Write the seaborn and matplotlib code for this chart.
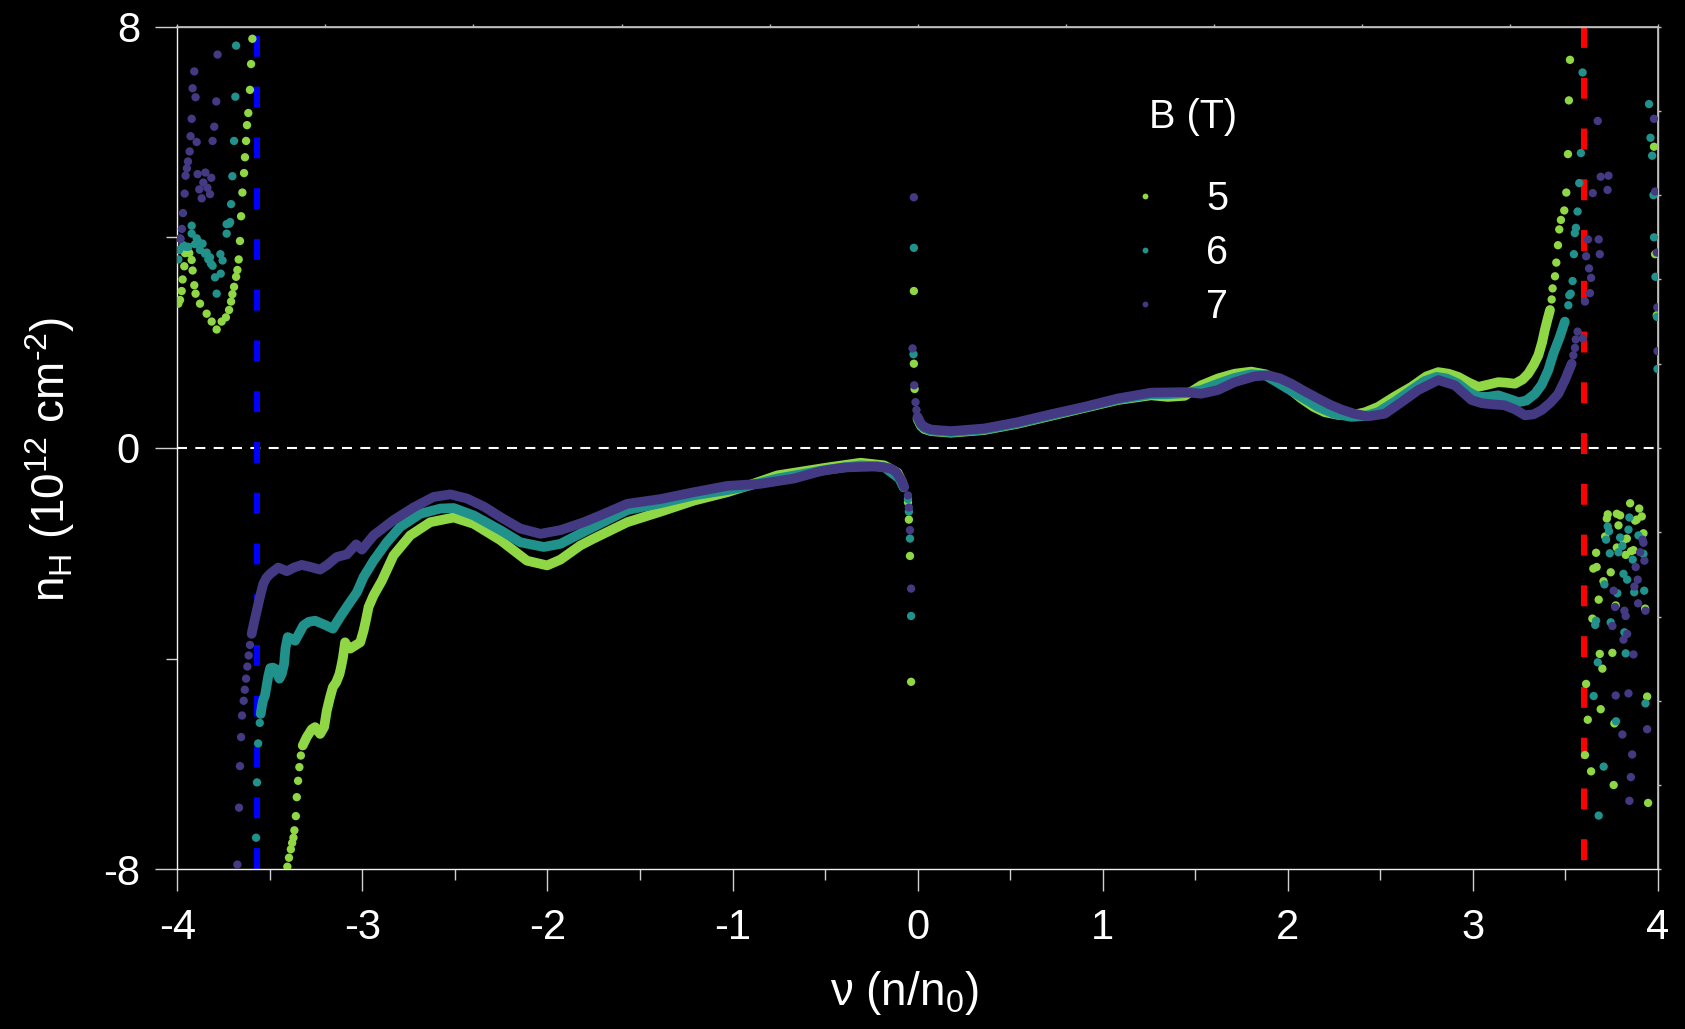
import numpy as np
import pandas as pd
import matplotlib
matplotlib.use("Agg")
import matplotlib.pyplot as plt
from matplotlib.lines import Line2D
import seaborn as sns

# ---------------------------------------------------------------------------
# Hall density n_H versus filling factor nu for three magnetic fields
# ---------------------------------------------------------------------------
B_FIELDS = [5, 6, 7]

# --- B = 5 T: continuous traces (hole side / electron side) ---
NU_B5_NEG = [-3.323, -3.301, -3.274, -3.256, -3.229, -3.207, -3.193, -3.175, -3.160, -3.142,
             -3.124, -3.115, -3.106, -3.094, -3.080, -3.066, -3.039, -3.012, -2.994, -2.982,
             -2.967, -2.940, -2.895, -2.832, -2.742, -2.634, -2.507, -2.399, -2.255, -2.111,
             -2.002, -1.930, -1.822, -1.750, -1.569, -1.389, -1.209, -1.028, -0.938, -0.758,
             -0.487, -0.307, -0.181, -0.108, -0.082]
NH_B5_NEG = [-5.65, -5.49, -5.34, -5.30, -5.43, -5.30, -4.99, -4.73, -4.54, -4.45,
             -4.29, -4.15, -3.99, -3.69, -3.78, -3.81, -3.75, -3.69, -3.47, -3.28,
             -3.02, -2.80, -2.52, -2.04, -1.66, -1.41, -1.32, -1.44, -1.75, -2.14,
             -2.23, -2.12, -1.85, -1.72, -1.41, -1.21, -1.00, -0.84, -0.74, -0.52,
             -0.37, -0.28, -0.33, -0.47, -0.66]
NU_B5_POS = [0.000, 0.018, 0.036, 0.072, 0.180, 0.360, 0.541, 0.721, 0.901, 1.082,
             1.262, 1.353, 1.443, 1.533, 1.623, 1.713, 1.803, 1.880, 1.948, 2.010,
             2.074, 2.140, 2.200, 2.270, 2.345, 2.420, 2.489, 2.580, 2.669, 2.750,
             2.814, 2.870, 2.922, 2.980, 3.030, 3.080, 3.138, 3.180, 3.228, 3.270,
             3.300, 3.330, 3.355, 3.375, 3.390, 3.405, 3.418]
NH_B5_POS = [0.55, 0.42, 0.36, 0.32, 0.29, 0.34, 0.46, 0.61, 0.76, 0.91,
             1.00, 0.97, 0.99, 1.19, 1.32, 1.41, 1.45, 1.40, 1.29, 1.12,
             0.94, 0.78, 0.68, 0.63, 0.62, 0.68, 0.78, 0.98, 1.16, 1.36,
             1.44, 1.41, 1.35, 1.24, 1.16, 1.20, 1.25, 1.24, 1.22, 1.30,
             1.41, 1.58, 1.76, 2.00, 2.24, 2.45, 2.62]
# --- B = 5 T: isolated points ---
NU_B5_DOTS = [-3.406, -3.397, -3.387, -3.380, -3.373, -3.368, -3.360, -3.355, -3.348, -3.341, -3.333,
              -0.052, -0.047, -0.041, -0.035, -0.020, -0.020, -0.016,
              -3.595, -3.602, -3.608, -3.617, -3.624, -3.629, -3.635, -3.640, -3.649, -3.656,
              -3.662, -3.669, -3.676, -3.683, -3.694, -3.703, -3.710, -3.721, -3.738, -3.761,
              -3.788, -3.815, -3.842, -3.878, -3.902, -3.909, -3.918, -3.923, -3.936, -3.959,
              -3.963, -3.972, -3.977, -3.986, -3.995,
              3.427, 3.432, 3.445, 3.452, 3.461, 3.468, 3.477, 3.495, 3.506, 3.515, 3.520, 3.526,
              3.980, 3.986, 3.995,
              3.851, 3.900, 3.730, 3.797, 3.725, 3.887, 3.914, 3.788, 3.716, 3.833, 3.923, 3.869,
              3.667, 3.827, 3.779, 3.670, 3.652, 3.746, 3.707, 3.681, 3.773, 3.932, 3.647, 3.687,
              3.755, 3.701, 3.613, 3.943, 3.692, 3.622, 3.766, 3.607, 3.640, 3.762, 3.948,
              3.779, 3.878, 3.815, 3.856]
NH_B5_DOTS = [-7.95, -7.78, -7.62, -7.50, -7.40, -7.26, -6.99, -6.63, -6.32, -6.06, -5.84,
              -1.03, -1.36, -2.05, -4.44, 2.98, 1.60, 1.12,
              7.77, 7.29, 6.80, 6.36, 6.13, 5.83, 5.52, 5.22, 4.85, 4.40,
              3.93, 3.58, 3.38, 3.25, 3.06, 2.92, 2.78, 2.62, 2.48, 2.40,
              2.25, 2.40, 2.55, 2.74, 2.93, 3.09, 3.37, 3.57, 3.70, 3.70,
              3.45, 3.20, 2.98, 2.81, 2.74,
              2.82, 3.03, 3.26, 3.52, 3.85, 4.15, 4.33, 4.51, 4.85, 5.58, 6.60, 7.37,
              5.72, 3.68, 2.52,
              -1.05, -1.15, -1.26, -1.28, -1.34, -1.36, -1.30, -1.47, -1.68, -1.72, -1.62, -1.94,
              -1.99, -2.03, -1.89, -2.26, -2.29, -2.36, -2.53, -2.88, -2.99, -3.05, -3.24, -3.91,
              -3.89, -4.19, -4.48, -4.72, -4.96, -5.16, -5.23, -5.83, -6.14, -6.40, -6.74,
              -1.25, -1.38, -1.75, -1.96]

# --- B = 6 T ---
NU_B6_NEG = [-3.550, -3.543, -3.536, -3.527, -3.521, -3.510, -3.499, -3.485, -3.472, -3.449,
             -3.436, -3.424, -3.416, -3.404, -3.385, -3.364, -3.319, -3.290, -3.256, -3.202,
             -3.160, -3.121, -3.085, -3.030, -2.994, -2.940, -2.868, -2.796, -2.688, -2.579,
             -2.507, -2.399, -2.255, -2.147, -2.020, -1.930, -1.786, -1.569, -1.389, -1.209,
             -1.028, -0.938, -0.758, -0.487, -0.307, -0.181, -0.099, -0.075]
NH_B6_NEG = [-5.05, -4.89, -4.78, -4.70, -4.58, -4.35, -4.18, -4.17, -4.19, -4.38,
             -4.29, -4.11, -3.80, -3.59, -3.62, -3.66, -3.37, -3.30, -3.28, -3.36,
             -3.43, -3.21, -3.02, -2.74, -2.45, -2.14, -1.79, -1.50, -1.25, -1.15,
             -1.14, -1.28, -1.56, -1.79, -1.88, -1.82, -1.56, -1.18, -1.05, -0.90,
             -0.80, -0.74, -0.58, -0.41, -0.33, -0.36, -0.58, -0.75]
NU_B6_POS = [0.000, 0.018, 0.036, 0.072, 0.180, 0.360, 0.541, 0.721, 0.901, 1.082,
             1.262, 1.353, 1.443, 1.533, 1.623, 1.713, 1.803, 1.880, 1.984, 2.074,
             2.164, 2.250, 2.345, 2.420, 2.489, 2.580, 2.669, 2.740, 2.805, 2.860,
             2.922, 2.980, 3.030, 3.080, 3.138, 3.190, 3.247, 3.290, 3.337, 3.373,
             3.409, 3.436, 3.471, 3.498]
NH_B6_POS = [0.57, 0.44, 0.38, 0.33, 0.30, 0.35, 0.47, 0.62, 0.77, 0.92,
             1.02, 1.02, 1.04, 1.10, 1.22, 1.33, 1.40, 1.38, 1.16, 0.97,
             0.78, 0.65, 0.59, 0.61, 0.68, 0.88, 1.10, 1.27, 1.35, 1.32,
             1.22, 1.06, 0.97, 0.97, 1.00, 0.94, 0.87, 0.90, 1.03, 1.20,
             1.48, 1.79, 2.11, 2.40]
NU_B6_DOTS = [-3.575, -3.570, -3.564, -3.555,
              -0.052, -0.047, -0.041, -0.035, -0.020, -0.022,
              -3.683, -3.687, -3.694, -3.703, -3.710, -3.719, -3.734, -3.768, -3.756, -3.766,
              -3.797, -3.788, -3.810, -3.824, -3.842, -3.864, -3.887, -3.896, -3.923, -3.923,
              -3.941, -3.968, -3.990, -3.995, -3.954, -3.905, -3.878, -3.851, -3.833, -3.819,
              -3.734, -3.715,
              3.953, 3.961, 3.970, 3.977, 3.980, 3.988, 3.996, 3.999,
              3.517, 3.522, 3.530, 3.540, 3.547, 3.552, 3.558, 3.567, 3.576, 3.585, 3.594,
              3.847, 3.730, 3.737, 3.842, 3.896, 3.721, 3.797, 3.809, 3.788, 3.741, 3.923, 3.865,
              3.815, 3.835, 3.712, 3.782, 3.873, 3.927, 3.667, 3.662, 3.746, 3.820, 3.827, 3.676,
              3.654, 3.934, 3.775, 3.708, 3.681]
NH_B6_DOTS = [-7.40, -6.35, -5.61, -5.22,
              -0.97, -1.21, -1.72, -3.19, 3.80, 1.78,
              7.64, 6.67, 5.83, 5.16, 4.63, 4.26, 4.07, 3.68, 3.56, 3.31,
              3.24, 2.93, 3.46, 3.62, 3.71, 3.88, 3.92, 3.98, 4.07, 4.22,
              3.82, 3.85, 3.76, 3.58, 3.82, 3.87, 3.76, 3.69, 3.58, 3.50,
              4.25, 4.29,
              6.53, 5.89, 5.55, 4.80, 4.00, 3.25, 2.49, 1.50,
              2.71, 2.90, 2.93, 3.17, 3.68, 4.08, 4.18, 4.49, 5.03, 5.60, 7.13,
              -1.32, -1.49, -1.58, -1.55, -1.66, -1.74, -1.70, -1.86, -1.98, -2.00, -2.01, -2.12,
              -2.39, -2.50, -2.59, -2.76, -2.74, -2.71, -3.28, -3.36, -3.31, -3.50, -3.90, -4.07,
              -4.71, -4.85, -5.19, -6.05, -6.98]

# --- B = 7 T ---
NU_B7_NEG = [-3.599, -3.585, -3.571, -3.555, -3.536, -3.520, -3.499, -3.455, -3.409, -3.370,
             -3.328, -3.280, -3.229, -3.190, -3.139, -3.084, -3.034, -3.003, -2.940, -2.832,
             -2.724, -2.616, -2.525, -2.435, -2.340, -2.255, -2.147, -2.038, -1.930, -1.804,
             -1.714, -1.569, -1.389, -1.209, -1.028, -0.848, -0.668, -0.523, -0.397, -0.217,
             -0.145, -0.115, -0.099, -0.085, -0.072]
NH_B7_NEG = [-3.53, -3.30, -3.09, -2.84, -2.58, -2.47, -2.39, -2.27, -2.34, -2.27,
             -2.22, -2.26, -2.31, -2.22, -2.07, -2.02, -1.83, -1.93, -1.66, -1.37,
             -1.13, -0.93, -0.88, -0.96, -1.12, -1.31, -1.53, -1.63, -1.56, -1.41,
             -1.28, -1.06, -0.97, -0.84, -0.72, -0.68, -0.58, -0.44, -0.37, -0.35,
             -0.39, -0.46, -0.55, -0.63, -0.74]
NU_B7_POS = [0.000, 0.018, 0.036, 0.072, 0.180, 0.360, 0.541, 0.721, 0.901, 1.082,
             1.262, 1.443, 1.533, 1.623, 1.713, 1.821, 1.894, 1.960, 2.020, 2.090,
             2.164, 2.230, 2.291, 2.360, 2.435, 2.525, 2.615, 2.706, 2.814, 2.904,
             2.994, 3.050, 3.102, 3.174, 3.230, 3.283, 3.330, 3.373, 3.420, 3.463,
             3.500, 3.535]
NH_B7_POS = [0.59, 0.46, 0.40, 0.35, 0.32, 0.37, 0.49, 0.64, 0.78, 0.94,
             1.05, 1.06, 1.03, 1.10, 1.25, 1.36, 1.38, 1.32, 1.22, 1.08,
             0.94, 0.82, 0.73, 0.65, 0.60, 0.65, 0.87, 1.10, 1.29, 1.19,
             0.91, 0.85, 0.83, 0.81, 0.73, 0.62, 0.64, 0.72, 0.86, 1.03,
             1.30, 1.60]
NU_B7_DOTS = [-3.676, -3.667, -3.662, -3.656, -3.651, -3.642, -3.636, -3.629, -3.622, -3.615, -3.608,
              -0.052, -0.047, -0.041, -0.035, -0.020, -0.027, -0.018, -0.011, -0.006,
              -3.783, -3.909, -3.918, -3.902, -3.790, -3.923, -3.801, -3.929, -3.896, -3.810,
              -3.934, -3.943, -3.949, -3.956, -3.891, -3.849, -3.817, -3.860, -3.838, -3.882,
              -3.824, -3.869, -3.961, -3.970, -3.976, -3.983, -3.986,
              3.544, 3.553, 3.557, 3.567, 3.595, 3.607, 3.634, 3.640, 3.629, 3.613, 3.623, 3.681,
              3.687, 3.649, 3.692, 3.734, 3.729, 3.676, 3.980, 3.986, 3.995, 3.998, 3.999,
              3.918, 3.923, 3.905, 3.928, 3.881, 3.892, 3.874, 3.762, 3.894, 3.770, 3.820, 3.827,
              3.934, 3.755, 3.835, 3.815, 3.869, 3.773, 3.842, 3.943, 3.809, 3.862, 3.855, 3.847]
NH_B7_DOTS = [-7.91, -6.83, -6.04, -5.49, -5.08, -4.80, -4.59, -4.38, -4.15, -3.94, -3.74,
              -0.90, -1.13, -1.56, -2.67, 4.76, 1.89, 1.19, 0.87, 0.72,
              7.47, 7.15, 6.83, 6.66, 6.58, 6.25, 6.10, 5.92, 5.81, 5.83,
              5.63, 5.44, 5.31, 5.17, 5.20, 5.23, 5.13, 5.04, 4.94, 4.91,
              4.82, 4.74, 4.83, 4.46, 4.16, 3.97, 3.98,
              1.76, 1.90, 2.06, 2.21, 2.08, 2.78, 2.94, 3.23, 3.41, 3.64, 3.96, 3.96,
              3.68, 4.84, 5.15, 5.17, 4.90, 6.21, 6.25, 4.87, 3.71, 2.67, 1.84,
              -1.74, -1.80, -1.98, -2.14, -2.26, -2.50, -2.63, -2.71, -2.95, -3.02, -3.09, -3.19,
              -3.09, -3.38, -3.53, -3.64, -3.92, -4.70, -4.66, -5.34, -5.44, -5.82, -6.25, -6.70]

# Band-edge markers
BLUE_NU = -3.57
RED_NU = 3.60

X_TICKS = [-4, -3, -2, -1, 0, 1, 2, 3, 4]
Y_TICKS = [-8, 0, 8]
Y_MINOR = [-4, 4]

PALETTE = {5: "#8fd744", 6: "#21918c", 7: "#443a83"}

# ---------------------------------------------------------------------------
# Tidy frames
# ---------------------------------------------------------------------------
def frame(b, nu, nh, seg):
    return pd.DataFrame({"nu": nu, "nH": nh, "B": b, "seg": f"{b}-{seg}"})

curves = pd.concat([
    frame(5, NU_B5_NEG, NH_B5_NEG, "neg"), frame(5, NU_B5_POS, NH_B5_POS, "pos"),
    frame(6, NU_B6_NEG, NH_B6_NEG, "neg"), frame(6, NU_B6_POS, NH_B6_POS, "pos"),
    frame(7, NU_B7_NEG, NH_B7_NEG, "neg"), frame(7, NU_B7_POS, NH_B7_POS, "pos"),
], ignore_index=True)
dots = pd.concat([
    frame(5, NU_B5_DOTS, NH_B5_DOTS, "dots"),
    frame(6, NU_B6_DOTS, NH_B6_DOTS, "dots"),
    frame(7, NU_B7_DOTS, NH_B7_DOTS, "dots"),
], ignore_index=True)

# ---------------------------------------------------------------------------
# Style
# ---------------------------------------------------------------------------
sns.set_theme(style="ticks", rc={
    "figure.facecolor": "black",
    "axes.facecolor": "black",
    "savefig.facecolor": "black",
    "axes.edgecolor": "#d9d9d9",
    "text.color": "white",
    "axes.labelcolor": "white",
    "xtick.color": "#d9d9d9",
    "ytick.color": "#d9d9d9",
})
plt.rcParams["font.family"] = ["Liberation Sans", "DejaVu Sans"]
plt.rcParams["mathtext.fontset"] = "custom"
plt.rcParams["mathtext.rm"] = "Liberation Sans"
plt.rcParams["mathtext.it"] = "Liberation Sans:italic"
plt.rcParams["mathtext.bf"] = "Liberation Sans:bold"
plt.rcParams["axes.unicode_minus"] = False

fig = plt.figure(figsize=(16.85, 10.29), dpi=100)
ax = fig.add_axes([0.1053, 0.1552, 0.8785, 0.8189])

# zero line and the two vertical guides
ax.axhline(0, color="white", lw=1.5, dashes=(4.8, 4.0), zorder=1)
ax.axvline(BLUE_NU, ymin=0, ymax=1, color="#0000ff", lw=4.3, dashes=(3.5, 5.0), zorder=2)
ax.axvline(RED_NU, ymin=1, ymax=0, color="#ff0000", lw=4.3, dashes=(3.5, 5.0), zorder=2)

# dense sweeps rendered as thick traces of overlapping points
sns.lineplot(data=curves, x="nu", y="nH", hue="B", units="seg", estimator=None,
             sort=False, palette=PALETTE, hue_order=B_FIELDS, linewidth=7.0,
             legend=False, ax=ax, solid_capstyle="round", solid_joinstyle="round",
             zorder=3)
# isolated points
sns.scatterplot(data=dots, x="nu", y="nH", hue="B", palette=PALETTE,
                hue_order=B_FIELDS, s=36, linewidth=0, legend=False, ax=ax, zorder=4)

ax.set_xlim(-4, 4)
ax.set_ylim(-8, 8)
ax.set_xticks(X_TICKS)
ax.set_xticklabels([str(t) for t in X_TICKS])
ax.set_xticks([t + 0.5 for t in X_TICKS[:-1]], minor=True)
ax.set_yticks(Y_TICKS)
ax.set_yticklabels([str(t) for t in Y_TICKS])
ax.set_yticks(Y_MINOR, minor=True)

ax.tick_params(which="major", direction="out", length=16, width=1.0,
               color="#d0d0d0", labelsize=30, labelcolor="white")
ax.tick_params(which="minor", direction="out", length=8, width=1.0, color="#d0d0d0")
ax.tick_params(axis="x", which="major", pad=12)
ax.tick_params(axis="y", which="major", pad=11)

for side in ["left", "bottom"]:
    ax.spines[side].set_color("#f0f0f0")
    ax.spines[side].set_linewidth(1.0)
for side in ["top", "right"]:
    ax.spines[side].set_color("#bdbdbd")
    ax.spines[side].set_linewidth(1.0)
    ax.spines[side].set_visible(True)

# small tick marks on the top and right frame
top = ax.secondary_xaxis("top")
top.set_xticks(np.arange(-4, 4.01, 0.8))
top.tick_params(direction="out", length=2.5, width=1.0, color="#bdbdbd", labeltop=False)
top.spines["top"].set_color("#bdbdbd")
right = ax.secondary_yaxis("right")
right.set_yticks(np.arange(-8, 8.01, 1.6))
right.tick_params(direction="out", length=2.5, width=1.0, color="#bdbdbd", labelright=False)
right.spines["right"].set_color("#bdbdbd")

ax.set_xlabel("\u03bd (n/n$_\\mathregular{0}$)", fontsize=33, color="white")
ax.xaxis.set_label_coords(0.491, -0.118, transform=ax.transAxes)
ax.xaxis.label.set_va("top")
ax.set_ylabel("n$_\\mathregular{H}$ (10$^\\mathregular{12}$ cm$^\\mathregular{\u2010 2}$)",
              fontsize=33, color="white")
ax.yaxis.set_label_coords(-0.068, 0.487, transform=ax.transAxes)

# legend
handles = [Line2D([], [], ls="none", marker="o", ms=4.2, mfc=PALETTE[b], mec="none")
           for b in B_FIELDS]
ax.legend(handles, [str(b) for b in B_FIELDS], loc="upper left",
          bbox_to_anchor=(1139 / 1685, 1 - 180 / 1029), bbox_transform=fig.transFigure,
          frameon=False, fontsize=28.5, handlelength=0.3, handletextpad=1.4,
          labelspacing=0.4, borderpad=0, borderaxespad=0, labelcolor="white")
fig.text(1149 / 1685, 1 - 128 / 1029, "B (T)", color="white", fontsize=28.5,
         ha="left", va="baseline")

fig.savefig("out.png", dpi=100, facecolor="black")
